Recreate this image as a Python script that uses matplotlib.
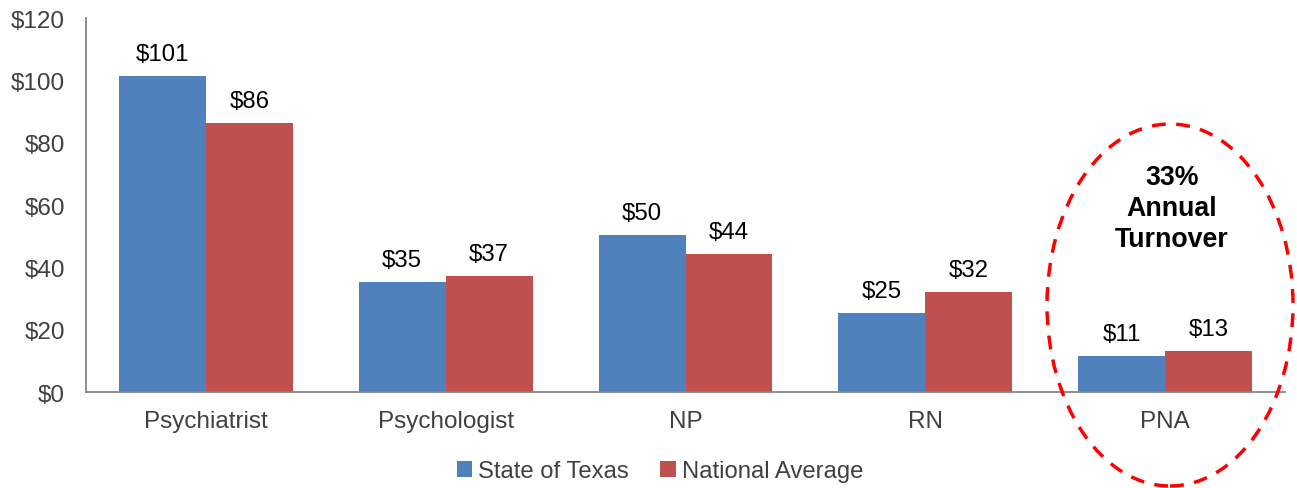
import numpy as np
import matplotlib.pyplot as plt
from matplotlib.patches import Ellipse

plt.rcParams['font.family'] = ['Liberation Sans', 'DejaVu Sans']

# hourly wages by position
roles = ["Psychiatrist", "Psychologist", "NP", "RN", "PNA"]
texas = [101.3, 35.3, 50.3, 25.4, 11.4]
national = [86.2, 37.1, 44.2, 32.1, 13.2]
y_ticks = [0, 20, 40, 60, 80, 100, 120]

blue = "#4F81BD"
red = "#C0504D"

fig = plt.figure(figsize=(12.97, 4.89), dpi=100)
ax = fig.add_axes([0.0663, 0.1963, 0.9245, 0.7648])

x = np.arange(len(roles))
w = 0.3625
b1 = ax.bar(x - w / 2, texas, w, color=blue, label="State of Texas")
b2 = ax.bar(x + w / 2, national, w, color=red, label="National Average")

for bars in (b1, b2):
    for bar in bars:
        v = bar.get_height()
        ax.annotate(f"${v:.0f}", (bar.get_x() + bar.get_width() / 2, v),
                    xytext=(0, 8), textcoords="offset points",
                    ha="center", va="bottom", fontsize=17.3, color="black")

ax.set_xlim(-0.5, len(roles) - 0.5)
ax.set_ylim(0, 120)
ax.set_yticks(y_ticks)
ax.set_yticklabels([f"${t}" for t in y_ticks])
ax.set_xticks(x)
ax.set_xticklabels(roles)
ax.tick_params(length=0, labelsize=17.5, labelcolor="#404040")
ax.tick_params(axis="x", pad=13)
ax.tick_params(axis="y", pad=15)

for s in ("top", "right"):
    ax.spines[s].set_visible(False)
for s in ("left", "bottom"):
    ax.spines[s].set_color("#868686")
    ax.spines[s].set_linewidth(1.3)

# PNA turnover callout
fig.text(1172 / 1297, 1 - 209 / 489, "33%\nAnnual\nTurnover", ha="center", va="center",
         fontsize=19.3, fontweight="bold", linespacing=1.27)
ell = Ellipse((1170 / 1297, 1 - 306 / 489), 246 / 1297, 362 / 489,
              transform=fig.transFigure, fill=False, edgecolor="#FF0000",
              linewidth=2.5, linestyle=(0, (4, 3)), clip_on=False)
fig.add_artist(ell)

fig.legend(loc="center", bbox_to_anchor=(660 / 1297, 1 - 472 / 489), ncol=2,
           frameon=False, fontsize=17.2, handlelength=0.65, handleheight=0.65,
           handletextpad=0.25, columnspacing=1.3, labelcolor="#404040")

fig.savefig("out.png", dpi=100)
